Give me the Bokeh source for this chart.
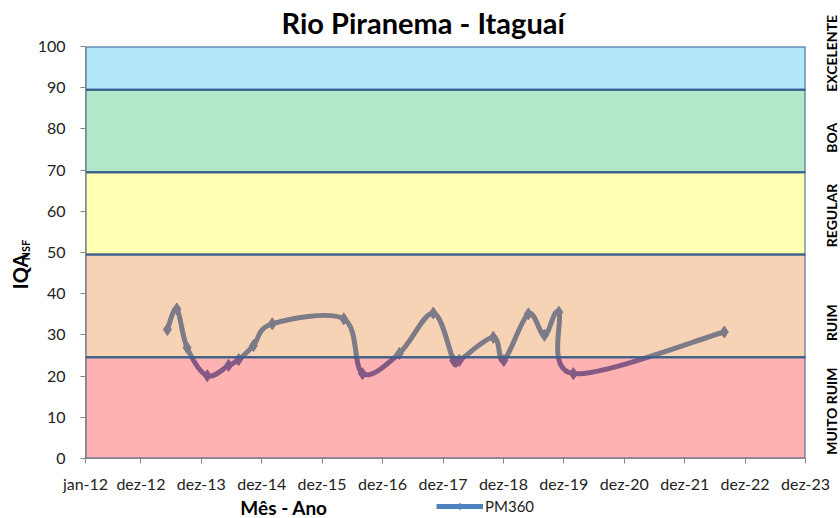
import math
import numpy as np
import pandas as pd
from bokeh.plotting import figure
from bokeh.layouts import gridplot
from bokeh.models import (Range1d, FixedTicker, Label, Legend, LegendItem, ColumnDataSource,
                          LinearAxis)
from bokeh.embed import file_html
from bokeh.resources import INLINE

# ---- data ----
dates = ["2013-05-10", "2013-07-06", "2013-09-06", "2014-01-06", "2014-05-15",
         "2014-07-15", "2014-10-12", "2015-02-03", "2016-04-10", "2016-08-01",
         "2017-03-12", "2017-10-03", "2018-02-03", "2018-03-10", "2018-10-01",
         "2018-12-03", "2019-05-01", "2019-08-06", "2019-11-01", "2020-01-28",
         "2022-07-28"]
iqa = [31.3, 36.3, 26.9, 20.1, 22.6, 24.0, 27.4, 32.7, 33.9, 20.6,
       25.5, 35.3, 23.8, 23.8, 29.4, 23.8, 35.1, 29.9, 35.5, 20.6, 30.7]
series_name = "PM360"

tick_dates = ["2012-01-01", "2012-12-01", "2013-12-01", "2014-12-01", "2015-12-01",
              "2016-12-01", "2017-12-01", "2018-12-01", "2019-12-01", "2020-12-01",
              "2021-12-01", "2022-12-01", "2023-12-01"]
tick_labels = ["jan-12", "dez-12", "dez-13", "dez-14", "dez-15", "dez-16", "dez-17",
               "dez-18", "dez-19", "dez-20", "dez-21", "dez-22", "dez-23"]
y_ticks = [0, 10, 20, 30, 40, 50, 60, 70, 80, 90, 100]

band_names = ["MUITO RUIM", "RUIM", "REGULAR", "BOA", "EXCELENTE"]
band_bottom = [0, 24.6, 49.5, 69.5, 89.5]
band_top = [24.6, 49.5, 69.5, 89.5, 100]
band_label_start = [0.9, 28.5, 51.3, 74.2, 89.0]   # where each rotated class name begins
band_colors = ["#FF0000", "#E46C0A", "#FFFF00", "#00B050", "#00B0F0"]

title_text = "Rio Piranema - Itaguaí"
y_label_main, y_label_sub = "IQA", "NSF"
y_label_pos, y_sub_pos = 45.4, 50.6
x_label_text = "Mês - Ano"


def to_ms(lst):
    return pd.to_datetime(pd.Series(lst)).values.astype("datetime64[ms]").astype("int64").astype(float)


x = to_ms(dates)
y = np.array(iqa, dtype=float)
tick_ms = to_ms(tick_dates)
x0, x1 = tick_ms[0], tick_ms[-1]

# smoothed curve (Catmull-Rom -> cubic Bezier segments)
n = len(x)
P = np.column_stack([x, y])
seg = {k: [] for k in ["x0", "y0", "x1", "y1", "cx0", "cy0", "cx1", "cy1"]}
for i in range(n - 1):
    p0 = P[i - 1] if i > 0 else P[i]
    p1 = P[i]
    p2 = P[i + 1]
    p3 = P[i + 2] if i + 2 < n else P[i + 1]
    c1 = p1 + (p2 - p0) / 6.0
    c2 = p2 - (p3 - p1) / 6.0
    seg["x0"].append(p1[0]); seg["y0"].append(p1[1])
    seg["x1"].append(p2[0]); seg["y1"].append(p2[1])
    seg["cx0"].append(c1[0]); seg["cy0"].append(c1[1])
    seg["cx1"].append(c2[0]); seg["cy1"].append(c2[1])

LINE = "#4F81BD"
FONT = "Lato"
TXT = "#222222"

# layout geometry (pixels)
LEFT_W = 33           # strip holding the y-axis title
B_LEFT = 52           # main plot border holding the y tick labels
B_RIGHT = 43          # main plot border holding the class names
B_TOP, B_BOTTOM = 46, 38
FRAME_W, FRAME_H = 720, 412
BOT_H = 22
MAIN_W = B_LEFT + FRAME_W + B_RIGHT
MAIN_H = B_TOP + FRAME_H + B_BOTTOM


def plain(fig):
    fig.xgrid.visible = False
    fig.ygrid.visible = False
    fig.outline_line_color = None
    fig.background_fill_color = "white"
    fig.border_fill_color = "white"
    return fig


y_rng = Range1d(0, 100)

p = plain(figure(frame_width=FRAME_W, frame_height=FRAME_H, x_axis_type="datetime",
                 x_range=Range1d(x0, x1), y_range=y_rng,
                 output_backend="svg", toolbar_location=None,
                 min_border_left=B_LEFT, min_border_right=20, min_border_top=B_TOP,
                 min_border_bottom=B_BOTTOM))

p.title.text = title_text
p.title.text_font = FONT
p.title.text_font_size = "29px"
p.title.text_font_style = "bold"
p.title.text_color = "black"
p.title.align = "left"
p.title.offset = 196
p.title.vertical_align = "top"
p.title.standoff = 9

p.bezier(x0="x0", y0="y0", x1="x1", y1="y1", cx0="cx0", cy0="cy0", cx1="cx1", cy1="cy1",
         source=ColumnDataSource(seg), line_color=LINE, line_width=5, line_cap="round")
p.scatter(x=x, y=y, marker="diamond", size=12, fill_color=LINE, line_color=LINE)

# quality bands drawn on top, translucent
p.quad(left=[x0] * len(band_names), right=[x1] * len(band_names),
       bottom=band_bottom, top=band_top, fill_color=band_colors, fill_alpha=0.3,
       line_color="#3A5F8B", line_width=2)

# axes
ax = p.xaxis[0]
ax.ticker = FixedTicker(ticks=list(tick_ms))
ax.major_label_overrides = {float(t): lab for t, lab in zip(tick_ms, tick_labels)}
ay = p.yaxis[0]
ay.ticker = FixedTicker(ticks=y_ticks)
for a in (ax, ay):
    a.axis_line_color = "#868686"
    a.major_tick_line_color = "#868686"
    a.minor_tick_line_color = None
    a.major_tick_in = 0
    a.major_tick_out = 5
    a.major_label_text_font = FONT
    a.major_label_text_font_size = "16px"
    a.major_label_text_color = TXT
ax.major_label_standoff = 10
ay.major_label_standoff = 15

# class names on the right
ra = LinearAxis(ticker=FixedTicker(ticks=band_label_start),
                major_label_overrides={float(t): l for t, l in zip(band_label_start, band_names)})
ra.axis_line_color = None
ra.major_tick_line_color = None
ra.minor_tick_line_color = None
ra.major_tick_out = 0
ra.major_tick_in = 0
ra.major_label_standoff = 26
ra.major_label_orientation = math.pi / 2
ra.major_label_text_font = FONT
ra.major_label_text_font_style = "bold"
ra.major_label_text_font_size = "14px"
ra.major_label_text_color = "black"
p.add_layout(ra, "right")

# left strip: y axis title
pl = plain(figure(width=LEFT_W, height=MAIN_H, x_range=Range1d(0, LEFT_W), y_range=y_rng,
                  output_backend="svg", toolbar_location=None,
                  x_axis_location=None, y_axis_location=None, min_border=0,
                  min_border_top=B_TOP, min_border_bottom=B_BOTTOM))
pl.add_layout(Label(x=19.5, y=y_label_pos, x_units="screen", y_units="data", text=y_label_main,
                    angle=math.pi / 2, text_font=FONT, text_font_style="bold", text_font_size="20px",
                    text_align="center", text_baseline="middle", text_color="black"))
pl.add_layout(Label(x=25, y=y_sub_pos, x_units="screen", y_units="data", text=y_label_sub,
                    angle=math.pi / 2, text_font=FONT, text_font_style="bold", text_font_size="11px",
                    text_align="center", text_baseline="middle", text_color="black"))

# bottom strip: x axis title and legend
b = plain(figure(width=MAIN_W, height=BOT_H, x_range=Range1d(0, FRAME_W), y_range=Range1d(0, BOT_H),
                 output_backend="svg", toolbar_location=None,
                 x_axis_location=None, y_axis_location=None, min_border=0,
                 min_border_left=B_LEFT, min_border_right=B_RIGHT))
b.add_layout(Label(x=198.5, y=11.5, x_units="screen", y_units="screen", text=x_label_text,
                   text_font=FONT, text_font_style="bold", text_font_size="19px",
                   text_align="center", text_baseline="middle", text_color="black"))
# legend proxies (kept outside the visible range)
leg_line = b.line(x=[-50, -40], y=[5, 5], line_color=LINE, line_width=5)
leg_mark = b.scatter(x=[-50], y=[5], marker="diamond", size=7, fill_color=LINE, line_color=LINE)
legend = Legend(items=[LegendItem(label=series_name, renderers=[leg_line, leg_mark])],
                location=(351, 3), orientation="horizontal",
                glyph_width=47, glyph_height=16, label_standoff=2, padding=0, margin=0,
                border_line_color=None, background_fill_alpha=0,
                label_text_font=FONT, label_text_font_size="15px", label_text_color=TXT)
b.add_layout(legend)

layout = gridplot([[pl, p], [None, b]], toolbar_location=None)
open("out.html", "w").write(file_html(layout, INLINE))
